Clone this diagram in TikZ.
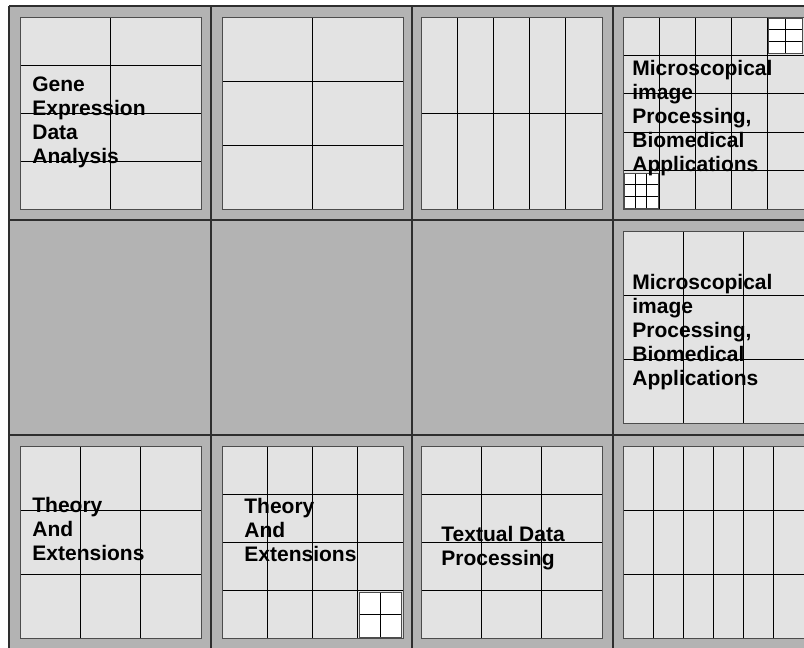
\documentclass[tikz,border=0pt]{standalone}
\usepackage{fontspec}
\usepackage{xcolor}
\usepackage{tikz}
\usetikzlibrary{positioning}

\newfontfamily\labelfont{Liberation Sans}[BoldFont={Liberation Sans Bold}]

\definecolor{cellgray}{HTML}{B3B3B3}
\definecolor{panelgray}{HTML}{E3E3E3}
\definecolor{edgegray}{HTML}{2E2E2E}

% grid box: style, x, y, width, height, columns, rows
\newcommand{\gridbox}[7]{%
  \pgfmathtruncatemacro{\lastcol}{#6-1}%
  \pgfmathtruncatemacro{\lastrow}{#7-1}%
  \fill[#1] (#2,#3) rectangle ++(#4,#5);
  \foreach \i in {1,...,\lastcol}
    \draw[gridline] ({#2+\i*#4/#6},#3) -- ++(0,#5);
  \foreach \j in {1,...,\lastrow}
    \draw[gridline] (#2,{#3+\j*#5/#7}) -- ++(#4,0);
  \draw[panelborder] (#2,#3) rectangle ++(#4,#5);
}
% a panel inside one cell
\newcommand{\gridpanel}[4]{\gridbox{panelfill}{#1}{#2}{181}{192}{#3}{#4}}

\begin{document}
\begin{tikzpicture}[x=1pt,y=-1pt,line width=0.8pt,
    gridline/.style={black, line width=0.9pt},
    panelborder/.style={draw=black!70, line width=1pt},
    panelfill/.style={fill=panelgray},
    whitefill/.style={fill=white},
    celledge/.style={edgegray, line width=1.4pt},
    topic/.style={anchor=north west, inner sep=0pt, align=left,
      font=\labelfont\bfseries\fontsize{21}{24}\selectfont}]
  \useasboundingbox (0,0) rectangle (804,648);
  \clip (0,0) rectangle (804,648);

  % cells
  \fill[cellgray] (9,6) rectangle (815,650);
  \foreach \cx in {9,211,412,613}
    \draw[celledge] (\cx,6) -- (\cx,650);
  \foreach \cy in {6,220,435}
    \draw[celledge] (9,\cy) -- (815,\cy);

  % first row
  \gridpanel{20}{17}{2}{4}
  \gridpanel{222}{17}{2}{3}
  \gridpanel{421}{17}{5}{2}
  \gridpanel{623}{17}{5}{5}
  \gridbox{whitefill}{768}{18}{34}{35}{2}{3}
  \gridbox{whitefill}{624}{173}{34}{35}{3}{3}

  % second row
  \gridpanel{623}{231}{3}{3}

  % third row
  \gridpanel{20}{446}{3}{3}
  \gridpanel{222}{446}{4}{4}
  \gridbox{whitefill}{359}{592}{42}{45}{2}{2}
  \gridpanel{421}{446}{3}{4}
  \gridpanel{623}{446}{6}{3}

  % labels
  \node[topic] (gene) at (32,76) {Gene\\Expression\\Data\\Analysis};
  \node[topic] (micro1) at (632,60) {Microscopical\\image\\Processing,\\Biomedical\\Applications};
  \node[topic] (micro2) at (632,274) {Microscopical\\image\\Processing,\\Biomedical\\Applications};
  \node[topic] (theory1) at (32,497) {Theory\\And\\Extensions};
  \node[topic] (theory2) at (244,498) {Theory\\And\\Extensions};
  \node[topic] (textual) at (441,526) {Textual Data\\Processing};
\end{tikzpicture}
\end{document}
